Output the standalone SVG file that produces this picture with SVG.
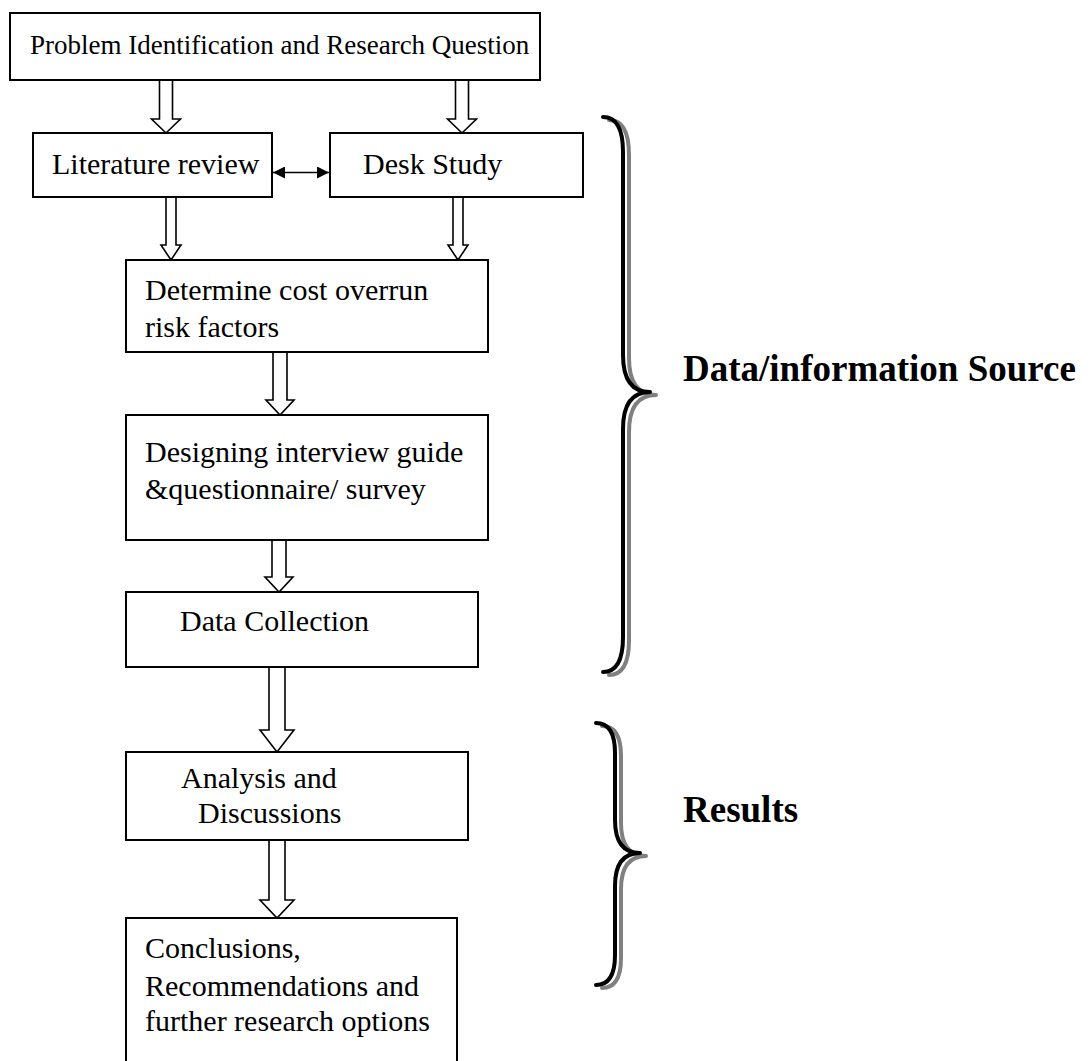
<svg xmlns="http://www.w3.org/2000/svg" width="1089" height="1061" viewBox="0 0 1089 1061">
  <defs>
    <style>
      .box { fill: #ffffff; stroke: #000000; stroke-width: 2; }
      .txt { font-family: "Liberation Serif", "Times New Roman", serif; font-size: 30px; fill: #000000; }
      .top { font-size: 27px; }
      .lbl { font-family: "Liberation Serif", "Times New Roman", serif; font-size: 37px; font-weight: bold; fill: #000000; }
      .hollow { fill: #ffffff; stroke: #000000; stroke-width: 1.6; stroke-linejoin: miter; }
      .link { stroke: #000000; stroke-width: 1.6; fill: none; }
      .brace { fill: none; stroke: #000000; stroke-width: 4; stroke-linecap: round; stroke-linejoin: round; }
      .brace-shadow { fill: none; stroke: #808080; stroke-width: 4; stroke-linecap: round; stroke-linejoin: round; }
    </style>
    <marker id="tri" viewBox="0 0 10 10" refX="10" refY="5" markerWidth="13" markerHeight="12" markerUnits="userSpaceOnUse" orient="auto-start-reverse">
      <path d="M0,0 L10,5 L0,10 z" fill="#000000"/>
    </marker>
  </defs>

  <rect width="1089" height="1061" fill="#ffffff"/>

  <!-- connectors: hollow block arrows and the two-way link -->
  <g id="connectors">
    <!-- problem -> literature review -->
    <polygon class="hollow" points="159.5,80 172.5,80 172.5,119 180.5,119 166,133 151.5,119 159.5,119"/>
    <!-- problem -> desk study -->
    <polygon class="hollow" points="455.5,80 468.5,80 468.5,119 476.5,119 462,133 447.5,119 455.5,119"/>
    <!-- literature review -> cost overrun factors -->
    <polygon class="hollow" points="166,197 176,197 176,245 181,245 171,260 161,245 166,245"/>
    <!-- desk study -> cost overrun factors -->
    <polygon class="hollow" points="453,197 463,197 463,245 468,245 458,260 448,245 453,245"/>
    <!-- cost overrun factors -> interview guide -->
    <polygon class="hollow" points="273,352 287,352 287,400 294,400 280,415 266,400 273,400"/>
    <!-- interview guide -> data collection -->
    <polygon class="hollow" points="272,540 286,540 286,577 293,577 279,592 265,577 272,577"/>
    <!-- data collection -> analysis -->
    <polygon class="hollow" points="269,667 285,667 285,730 294,730 277,752 260,730 269,730"/>
    <!-- analysis -> conclusions -->
    <polygon class="hollow" points="269,840 285,840 285,900 294,900 277,918 260,900 269,900"/>
    <!-- literature review <-> desk study -->
    <line class="link" x1="273" y1="172.5" x2="329" y2="172.5" marker-start="url(#tri)" marker-end="url(#tri)"/>
  </g>

  <g id="node-problem">
    <rect class="box" x="10" y="13" width="530" height="67"/>
    <text class="txt top" x="30" y="54">Problem Identification and Research Question</text>
  </g>

  <g id="node-literature">
    <rect class="box" x="33" y="133" width="239" height="64"/>
    <text class="txt" x="52" y="174">Literature review</text>
  </g>

  <g id="node-desk">
    <rect class="box" x="330" y="133" width="253" height="64"/>
    <text class="txt" x="363" y="174">Desk Study</text>
  </g>

  <g id="node-factors">
    <rect class="box" x="126" y="260" width="362" height="92"/>
    <text class="txt" x="145" y="300">Determine cost overrun</text>
    <text class="txt" x="145" y="337">risk factors</text>
  </g>

  <g id="node-design">
    <rect class="box" x="126" y="415" width="362" height="125"/>
    <text class="txt" x="145" y="462">Designing interview guide</text>
    <text class="txt" x="145" y="499">&amp;questionnaire/ survey</text>
  </g>

  <g id="node-collection">
    <rect class="box" x="126" y="592" width="352" height="75"/>
    <text class="txt" x="180" y="631">Data Collection</text>
  </g>

  <g id="node-analysis">
    <rect class="box" x="126" y="752" width="342" height="88"/>
    <text class="txt" x="181" y="788">Analysis and</text>
    <text class="txt" x="198" y="823">Discussions</text>
  </g>

  <g id="node-conclusions">
    <rect class="box" x="126" y="918" width="331" height="160"/>
    <text class="txt" x="145" y="958">Conclusions,</text>
    <text class="txt" x="145" y="996">Recommendations and</text>
    <text class="txt" x="145" y="1031">further research options</text>
  </g>

  <!-- grouping braces with offset grey shadow -->
  <g id="brace-source">
    <path class="brace-shadow" transform="translate(6,3)" d="M603,117 Q623,117 623,152 L623,355 Q623,392 650,392 Q623,392 623,429 L623,637 Q623,672 603,672"/>
    <path class="brace" d="M603,117 Q623,117 623,152 L623,355 Q623,392 650,392 Q623,392 623,429 L623,637 Q623,672 603,672"/>
    <text class="lbl" x="683" y="381">Data/information Source</text>
  </g>

  <g id="brace-results">
    <path class="brace-shadow" transform="translate(6,3)" d="M596,723 Q615,723 615,753 L615,820 Q615,853 640,853 Q615,853 615,886 L615,955 Q615,985 596,985"/>
    <path class="brace" d="M596,723 Q615,723 615,753 L615,820 Q615,853 640,853 Q615,853 615,886 L615,955 Q615,985 596,985"/>
    <text class="lbl" x="683" y="822">Results</text>
  </g>
</svg>
